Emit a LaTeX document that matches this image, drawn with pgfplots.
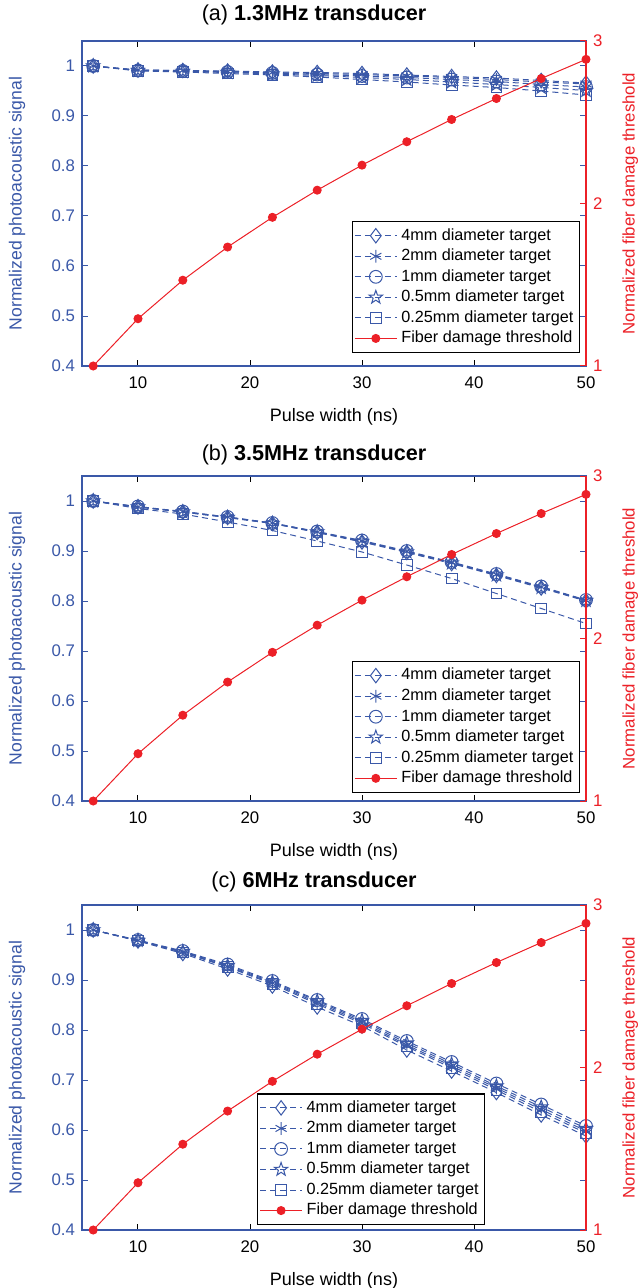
\documentclass[border=0pt]{standalone}
\usepackage{fontspec}
\setmainfont{Liberation Sans}
\usepackage{pgfplots}
\pgfplotsset{compat=1.18}
\usetikzlibrary{plotmarks}
\definecolor{blueC}{RGB}{58,88,168}
\definecolor{redC}{RGB}{236,32,39}

\pgfdeclareplotmark{pentagram}{%
  \pgfpathmoveto{\pgfpointpolar{90}{1.25\pgfplotmarksize}}%
  \pgfpathlineto{\pgfpointpolar{126}{0.5\pgfplotmarksize}}%
  \pgfpathlineto{\pgfpointpolar{162}{1.25\pgfplotmarksize}}%
  \pgfpathlineto{\pgfpointpolar{198}{0.5\pgfplotmarksize}}%
  \pgfpathlineto{\pgfpointpolar{234}{1.25\pgfplotmarksize}}%
  \pgfpathlineto{\pgfpointpolar{270}{0.5\pgfplotmarksize}}%
  \pgfpathlineto{\pgfpointpolar{306}{1.25\pgfplotmarksize}}%
  \pgfpathlineto{\pgfpointpolar{342}{0.5\pgfplotmarksize}}%
  \pgfpathlineto{\pgfpointpolar{18}{1.25\pgfplotmarksize}}%
  \pgfpathlineto{\pgfpointpolar{54}{0.5\pgfplotmarksize}}%
  \pgfpathclose\pgfusepathqstroke}

% fiber damage threshold (same in all panels)
\pgfplotstableread{
x   f
6   1.000
10  1.291
14  1.528
18  1.732
22  1.915
26  2.082
30  2.236
34  2.380
38  2.517
42  2.646
46  2.769
50  2.887
}\fiber

% panel (a) 1.3 MHz
\pgfplotstableread{
x   d4    d2    d1    d05   d025
6   1.000 1.000 1.000 1.000 1.000
10  0.992 0.992 0.991 0.991 0.990
14  0.991 0.991 0.990 0.989 0.988
18  0.990 0.989 0.988 0.987 0.985
22  0.988 0.987 0.986 0.984 0.982
26  0.987 0.985 0.983 0.981 0.978
30  0.985 0.983 0.980 0.977 0.973
34  0.982 0.980 0.977 0.973 0.968
38  0.979 0.977 0.973 0.968 0.962
42  0.976 0.973 0.969 0.963 0.957
46  0.971 0.968 0.963 0.957 0.950
50  0.966 0.964 0.958 0.951 0.942
}\tabA

% panel (b) 3.5 MHz
\pgfplotstableread{
x   d4    d2    d1    d05   d025
6   1.000 1.000 1.000 1.000 1.000
10  0.988 0.988 0.989 0.988 0.985
14  0.978 0.979 0.979 0.978 0.974
18  0.967 0.968 0.968 0.967 0.958
22  0.955 0.956 0.956 0.955 0.941
26  0.937 0.938 0.939 0.938 0.920
30  0.918 0.920 0.921 0.919 0.898
34  0.897 0.899 0.900 0.898 0.872
38  0.875 0.877 0.878 0.876 0.845
42  0.851 0.853 0.854 0.852 0.815
46  0.826 0.828 0.829 0.827 0.785
50  0.800 0.801 0.802 0.801 0.755
}\tabB

% panel (c) 6 MHz
\pgfplotstableread{
x   d4    d2    d1    d05   d025
6   1.000 1.000 1.000 1.000 1.000
10  0.978 0.979 0.980 0.979 0.979
14  0.953 0.956 0.958 0.957 0.955
18  0.922 0.927 0.931 0.929 0.926
22  0.888 0.894 0.898 0.896 0.892
26  0.846 0.855 0.860 0.858 0.852
30  0.808 0.816 0.822 0.819 0.813
34  0.760 0.770 0.778 0.774 0.767
38  0.718 0.728 0.736 0.732 0.724
42  0.675 0.684 0.693 0.688 0.680
46  0.630 0.641 0.651 0.646 0.636
50  0.588 0.598 0.608 0.603 0.594
}\tabC

\tikzset{ttl/.style={font=\fontsize{10.8}{12}\selectfont, anchor=center}}

\pgfplotsset{
  base/.style={
    scale only axis, width=252pt, height=162.5pt,
    xmin=5, xmax=50, anchor=south west,
    tick align=inside, major tick length=3pt,
    /pgf/number format/assume math mode=true,
    tick label style={font=\fontsize{8.4}{10}\selectfont},
    every axis plot/.append style={line width=0.5pt},
  },
  leftax/.style={
    base,
    axis x line*=box, axis y line*=box,
    ymin=0.4, ymax=1.05,
    xtick={10,20,30,40,50},
    ytick={0.4,0.5,0.6,0.7,0.8,0.9,1},
    x axis line style={line width=0.7pt, black},
    y axis line style={line width=0.7pt, blueC},
    ytick style={blueC, line width=0.5pt},
    xtick style={black, line width=0.5pt},
    yticklabel style={blueC},
    xticklabel style={yshift=-2pt},
    xlabel={Pulse width (ns)},
    xlabel style={font=\fontsize{9}{10}\selectfont, at={(axis description cs:0.5,-0.155)}, anchor=center},
    ylabel={Normalized photoacoustic signal},
    ylabel style={font=\fontsize{8.8}{10}\selectfont, blueC, at={(axis description cs:-0.129,0.5)}, anchor=center, rotate=0},
  },
  rightax/.style={
    base,
    axis y line*=right, axis x line=none,
    ymin=1, ymax=3, ytick={1,2,3},
    y axis line style={redC, line width=0.7pt},
    ytick style={redC, line width=0.5pt},
    yticklabel style={redC},
    ylabel={Normalized fiber damage threshold},
    ylabel style={font=\fontsize{8.4}{10}\selectfont, redC, at={(axis description cs:1.088,0.5)}, anchor=center},
    legend style={draw=black, fill=white, line width=0.6pt,
      font=\fontsize{8.1}{10}\selectfont, row sep=-1.1pt,
      inner xsep=1pt, inner ysep=1.3pt,
      legend cell align=left},
    legend image code/.code={%
      \draw[mark repeat=2,mark phase=2] plot coordinates {(0cm,0cm) (0.37cm,0cm) (0.74cm,0cm)};},
  },
  bl/.style={blueC, line width=0.5pt, dash pattern=on 3pt off 2pt, mark size=3.2pt, mark options={solid, line width=0.5pt}},
  rd/.style={redC, line width=0.5pt, mark=*, mark size=2pt, mark options={solid, fill=redC}},
}

\newcommand{\bluelegend}{%
  \addlegendimage{bl, mark=diamond, mark size=3.6pt}\addlegendentry{4mm diameter target}
  \addlegendimage{bl, mark=asterisk}\addlegendentry{2mm diameter target}
  \addlegendimage{bl, mark=o}\addlegendentry{1mm diameter target}
  \addlegendimage{bl, mark=pentagram, mark size=2.8pt}\addlegendentry{0.5mm diameter target}
  \addlegendimage{bl, mark=square, mark size=2.7pt}\addlegendentry{0.25mm diameter target}
}
\newcommand{\blueplots}[1]{%
  \addplot[bl, mark=diamond, mark size=3.6pt] table[x=x, y=d4] {#1};
  \addplot[bl, mark=asterisk] table[x=x, y=d2] {#1};
  \addplot[bl, mark=o] table[x=x, y=d1] {#1};
  \addplot[bl, mark=pentagram, mark size=2.8pt] table[x=x, y=d05] {#1};
  \addplot[bl, mark=square, mark size=2.7pt] table[x=x, y=d025] {#1};
}

\begin{document}
\begin{tikzpicture}
\useasboundingbox (0,0) rectangle (320pt,-644pt);

% ---------- (a)
\begin{axis}[leftax, at={(41pt,-183pt)}]
\blueplots{\tabA}
\end{axis}
\begin{axis}[rightax, at={(41pt,-183pt)},
  legend style={at={(0.988,0.04)}, anchor=south east}]
\bluelegend
\addplot[rd] table[x=x, y=f] {\fiber};
\addlegendentry{Fiber damage threshold}
\end{axis}
\node[ttl] at (157pt,-7.5pt) {(a) \textbf{1.3MHz transducer}};

% ---------- (b)
\begin{axis}[leftax, at={(41pt,-400.5pt)}]
\blueplots{\tabB}
\end{axis}
\begin{axis}[rightax, at={(41pt,-400.5pt)},
  legend style={at={(0.988,0.025)}, anchor=south east}]
\bluelegend
\addplot[rd] table[x=x, y=f] {\fiber};
\addlegendentry{Fiber damage threshold}
\end{axis}
\node[ttl] at (157pt,-227.5pt) {(b) \textbf{3.5MHz transducer}};

% ---------- (c)
\begin{axis}[leftax, at={(41pt,-615pt)}]
\blueplots{\tabC}
\end{axis}
\begin{axis}[rightax, at={(41pt,-615pt)},
  legend style={at={(0.80,0.015)}, anchor=south east}]
\bluelegend
\addplot[rd] table[x=x, y=f] {\fiber};
\addlegendentry{Fiber damage threshold}
\end{axis}
\node[ttl] at (157pt,-441pt) {(c) \textbf{6MHz transducer}};
\end{tikzpicture}
\end{document}
